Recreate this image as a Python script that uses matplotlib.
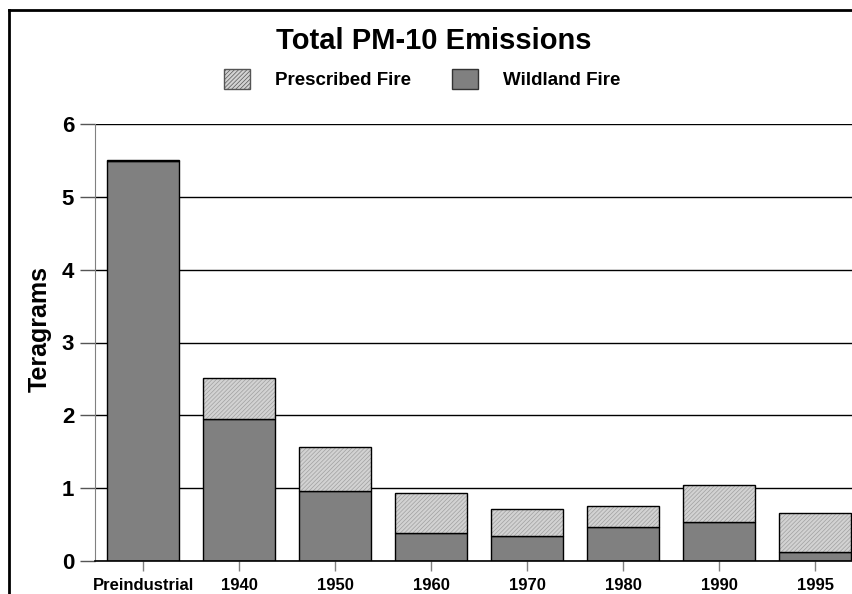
import matplotlib.pyplot as plt
from matplotlib.patches import Patch
from matplotlib.lines import Line2D

plt.rcParams['font.family'] = ['Liberation Sans', 'DejaVu Sans']
plt.rcParams['font.weight'] = 'bold'
plt.rcParams['hatch.linewidth'] = 0.5

# data (teragrams)
years = ['Preindustrial', '1940', '1950', '1960', '1970', '1980', '1990', '1995']
wildland = [5.49, 1.95, 0.96, 0.385, 0.35, 0.46, 0.54, 0.13]
prescribed = [0.01, 0.56, 0.60, 0.555, 0.36, 0.29, 0.51, 0.53]

wild_col = '#808080'
presc_col = '#d2d2d2'
hatch_col = '#a0a0a0'

fig = plt.figure(figsize=(8.53, 5.94), dpi=100)
ax = fig.add_axes([95/853, 33/594, 768/853, 437/594])

x = list(range(len(years)))
ax.bar(x, wildland, width=0.75, color=wild_col, edgecolor='black', linewidth=1.0, zorder=2)
ax.bar(x, prescribed, width=0.75, bottom=wildland, color=presc_col, edgecolor=hatch_col,
       hatch='////////', linewidth=0, zorder=2)
ax.bar(x, prescribed, width=0.75, bottom=wildland, fill=False, edgecolor='black',
       linewidth=1.0, zorder=3)

ax.set_xlim(-0.5, 7.5)
ax.set_ylim(0, 6)
ax.set_yticks(range(7))
ax.set_xticks(x)
ax.set_xticklabels(years, fontsize=12)
ax.tick_params(axis='y', labelsize=16, length=11, width=1, color='#555555', pad=4)
ax.tick_params(axis='x', length=7, width=1, color='#808080', pad=5)
ax.yaxis.grid(True, color='black', linewidth=1)
ax.set_axisbelow(True)
for s in ['top', 'right']:
    ax.spines[s].set_visible(False)
ax.spines['left'].set_color('#808080')
ax.spines['bottom'].set_color('black')
ax.spines['bottom'].set_linewidth(1.2)

ax.set_ylabel('Teragrams', fontsize=18, fontweight='bold')
ax.yaxis.set_label_coords(-0.056, 0.53)
fig.text(434/853, 1 - 41/594, 'Total PM-10 Emissions', ha='center', va='center',
         fontsize=21, fontweight='bold')

handles = [Patch(facecolor=presc_col, edgecolor='#555555', hatch='////////', linewidth=1),
           Patch(facecolor=wild_col, edgecolor='#333333', linewidth=1)]
fig.legend(handles, ['Prescribed Fire', 'Wildland Fire'], loc='center',
           bbox_to_anchor=(422/853, 1 - 79/594), ncol=2, frameon=False,
           fontsize=13.5, handlelength=1.4, handleheight=1.25, handletextpad=1.3,
           columnspacing=2.2)

# frame around the figure (left and top)
fig.add_artist(Line2D([9/853, 9/853], [0, 1 - 10/594], color='black', linewidth=2,
                      transform=fig.transFigure))
fig.add_artist(Line2D([9/853, 1], [1 - 10/594, 1 - 10/594], color='black', linewidth=2,
                      transform=fig.transFigure))

fig.savefig('out.png', dpi=100)
